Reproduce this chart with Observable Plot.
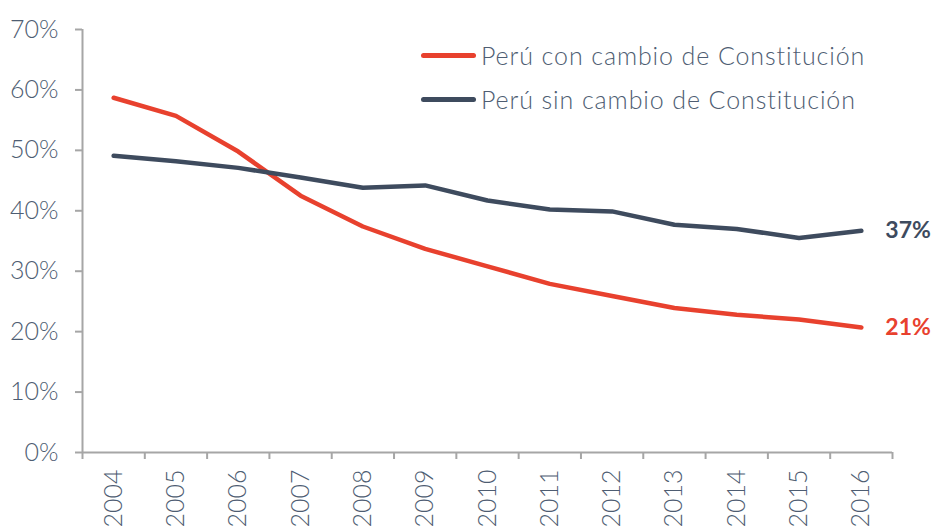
<!DOCTYPE html>
<html>
<head>
<meta charset="utf-8">
<script src="https://cdn.jsdelivr.net/npm/d3@7"></script>
<script src="https://cdn.jsdelivr.net/npm/@observablehq/plot@0.6"></script>
<style>
  body { margin: 0; background: #fff; }
  #wrap { position: relative; width: 935px; height: 527px; overflow: hidden; font-family: Lato, sans-serif; }
  .legend { position: absolute; left: 421px; top: 33px; font-family: Lato, sans-serif; font-weight: 300; font-size: 25px; letter-spacing: 0.9px; color: #4e5d72; }
  .legend .row { display: flex; align-items: center; height: 44px; white-space: nowrap; }
  .legend .sw { width: 55px; height: 5px; border-radius: 3px; margin-right: 5px; }
</style>
</head>
<body>
<div id="wrap"></div>
<script>
const years = [2004, 2005, 2006, 2007, 2008, 2009, 2010, 2011, 2012, 2013, 2014, 2015, 2016];
const conCambio = [58.7, 55.7, 49.8, 42.5, 37.4, 33.7, 30.8, 27.9, 25.9, 23.9, 22.8, 22.0, 20.7];
const sinCambio = [49.1, 48.2, 47.1, 45.5, 43.8, 44.2, 41.7, 40.2, 39.9, 37.7, 37.0, 35.5, 36.7];
const yTicks = [0, 10, 20, 30, 40, 50, 60, 70];
const seriesNames = ["Perú con cambio de Constitución", "Perú sin cambio de Constitución"];
const endLabels = ["21%", "37%"];
const colors = ["#e8412e", "#3e4b5e"];

const rows = [];
years.forEach((yr, i) => {
  rows.push({year: yr, value: conCambio[i], series: seriesNames[0]});
  rows.push({year: yr, value: sinCambio[i], series: seriesNames[1]});
});
const last = [
  {year: years[years.length - 1], value: conCambio[conCambio.length - 1], label: endLabels[0], color: colors[0]},
  {year: years[years.length - 1], value: sinCambio[sinCambio.length - 1], label: endLabels[1], color: colors[1]}
];
const xDomain = [years[0] - 0.5, years[years.length - 1] + 0.5];
const bounds = years.map(y => y - 0.5).concat([years[years.length - 1] + 0.5]);
const axisGrey = "#a6a6a6";
const textCol = "#4e5d72";

const chart = Plot.plot({
  width: 935,
  height: 527,
  marginLeft: 82,
  marginRight: 43,
  marginTop: 29,
  marginBottom: 75,
  style: {fontFamily: "Lato, sans-serif", fontWeight: 300, fontSize: "25px", background: "#fff"},
  x: {type: "linear", domain: xDomain},
  y: {domain: [0, 70]},
  color: {domain: seriesNames, range: colors},
  marks: [
    Plot.axisY({ticks: yTicks, tickSize: 7, tickPadding: 17, tickFormat: d => d + "%", stroke: axisGrey, strokeWidth: 2, fill: textCol, label: null, fontSize: 25}),
    Plot.axisX({ticks: bounds, tickSize: 7, tickFormat: () => "", stroke: axisGrey, strokeWidth: 2, label: null}),
    Plot.axisX({ticks: years, tickSize: 0, tickPadding: 17, tickRotate: -90, tickFormat: d => String(d), fill: textCol, label: null, fontSize: 25}),
    Plot.ruleX([xDomain[0]], {stroke: axisGrey, strokeWidth: 2}),
    Plot.ruleY([0], {stroke: axisGrey, strokeWidth: 2}),
    Plot.line(rows, {x: "year", y: "value", z: "series", stroke: "series", strokeWidth: 4.5, strokeLinecap: "round", strokeLinejoin: "round"}),
    Plot.text(last, {x: "year", y: "value", text: "label", fill: "color", dx: 24, textAnchor: "start", fontWeight: 700, fontSize: 23})
  ]
});

const wrap = document.getElementById("wrap");
wrap.appendChild(chart);

const legend = document.createElement("div");
legend.className = "legend";
seriesNames.forEach((name, i) => {
  const row = document.createElement("div");
  row.className = "row";
  const sw = document.createElement("span");
  sw.className = "sw";
  sw.style.background = colors[i];
  const t = document.createElement("span");
  t.textContent = name;
  row.appendChild(sw);
  row.appendChild(t);
  legend.appendChild(row);
});
wrap.appendChild(legend);
</script>
</body>
</html>
